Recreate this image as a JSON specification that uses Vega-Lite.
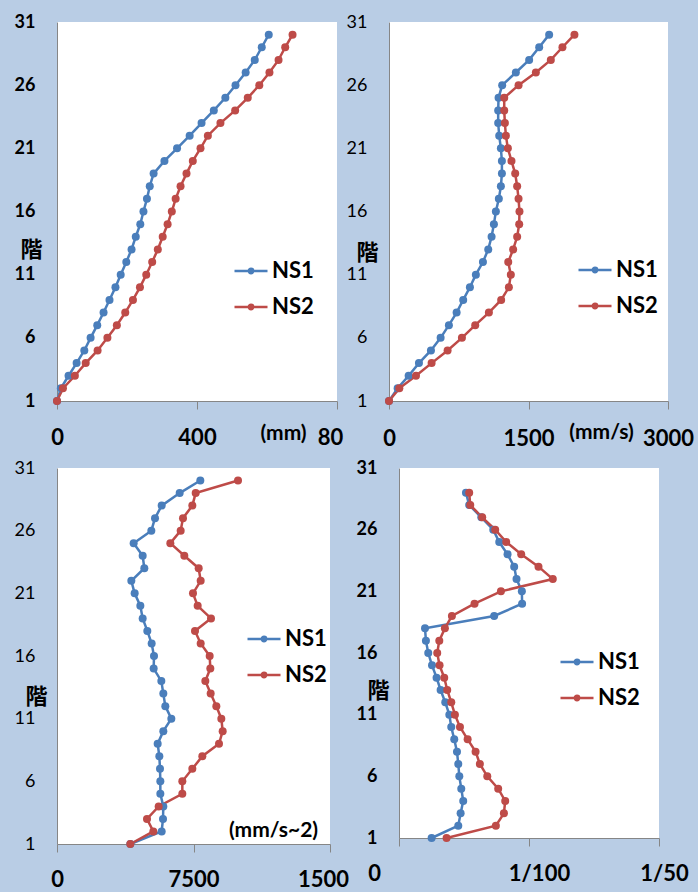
{
  "$schema": "https://vega.github.io/schema/vega-lite/v6.json",
  "background": "#B9CDE5",
  "padding": {"left": 14, "top": 13, "right": 40, "bottom": 40},
  "config": {
    "font": "Lato",
    "view": {"fill": "white", "stroke": null},
    "axis": {"grid": false, "domainColor": "#868686", "tickColor": "#868686", "labelColor": "black", "titleColor": "black", "labelFont": "Lato", "titleFont": "Lato", "labelFlush": false, "labelOverlap": false, "labelBound": false},
    "axisX": {"tickSize": 8, "labelFontSize": 22, "labelFontWeight": "bold", "titleFontSize": 21, "titleFontWeight": "bold", "titleAlign": "center", "titleBaseline": "alphabetic"},
    "axisY": {"ticks": false, "labelFontSize": 18, "labelPadding": 22, "titleAngle": 0, "titleFont": "Noto Sans CJK JP", "titleFontSize": 22, "titleFontWeight": "bold", "titleAlign": "center", "titleBaseline": "middle"},
    "legend": {"orient": "none", "padding": 0, "title": null, "labelFont": "Lato", "labelFontSize": 22, "labelFontWeight": "bold", "labelColor": "black", "symbolSize": 1089, "symbolStrokeWidth": 2.5, "labelOffset": 3, "rowPadding": 7, "symbolType": "M-1,0L1,0M-0.073,0A0.073,0.073,0,1,1,0.073,0A0.073,0.073,0,1,1,-0.073,0ZM-0.133,0A0.133,0.133,0,1,1,0.133,0A0.133,0.133,0,1,1,-0.133,0Z"}
  },
  "datasets": {
    "disp": [
      {"f":1,"NS1":0,"NS2":0},{"f":2,"NS1":11,"NS2":17},{"f":3,"NS1":33,"NS2":51},{"f":4,"NS1":56,"NS2":82},{"f":5,"NS1":78,"NS2":116},
      {"f":6,"NS1":96,"NS2":144},{"f":7,"NS1":115,"NS2":171},{"f":8,"NS1":133,"NS2":195},{"f":9,"NS1":150,"NS2":217},{"f":10,"NS1":167,"NS2":237},
      {"f":11,"NS1":182,"NS2":255},{"f":12,"NS1":198,"NS2":272},{"f":13,"NS1":213,"NS2":288},{"f":14,"NS1":225,"NS2":302},{"f":15,"NS1":238,"NS2":316},
      {"f":16,"NS1":247,"NS2":328},{"f":17,"NS1":257,"NS2":339},{"f":18,"NS1":265,"NS2":353},{"f":19,"NS1":276,"NS2":370},{"f":20,"NS1":307,"NS2":388},
      {"f":21,"NS1":343,"NS2":410},{"f":22,"NS1":379,"NS2":431},{"f":23,"NS1":413,"NS2":467},{"f":24,"NS1":448,"NS2":509},{"f":25,"NS1":481,"NS2":545},
      {"f":26,"NS1":510,"NS2":578},{"f":27,"NS1":539,"NS2":607},{"f":28,"NS1":565,"NS2":633},{"f":29,"NS1":585,"NS2":652},{"f":30,"NS1":605,"NS2":673}
    ],
    "vel": [
      {"f":1,"NS1":0,"NS2":0},{"f":2,"NS1":93,"NS2":111},{"f":3,"NS1":211,"NS2":290},{"f":4,"NS1":322,"NS2":458},{"f":5,"NS1":451,"NS2":630},
      {"f":6,"NS1":555,"NS2":784},{"f":7,"NS1":644,"NS2":927},{"f":8,"NS1":727,"NS2":1074},{"f":9,"NS1":798,"NS2":1206},{"f":10,"NS1":870,"NS2":1289},
      {"f":11,"NS1":934,"NS2":1310},{"f":12,"NS1":1010,"NS2":1282},{"f":13,"NS1":1067,"NS2":1335},{"f":14,"NS1":1103,"NS2":1378},{"f":15,"NS1":1128,"NS2":1400},
      {"f":16,"NS1":1149,"NS2":1403},{"f":17,"NS1":1181,"NS2":1393},{"f":18,"NS1":1203,"NS2":1378},{"f":19,"NS1":1214,"NS2":1357},{"f":20,"NS1":1214,"NS2":1317},
      {"f":21,"NS1":1203,"NS2":1278},{"f":22,"NS1":1185,"NS2":1257},{"f":23,"NS1":1174,"NS2":1246},{"f":24,"NS1":1174,"NS2":1239},{"f":25,"NS1":1178,"NS2":1239},
      {"f":26,"NS1":1217,"NS2":1393},{"f":27,"NS1":1364,"NS2":1579},{"f":28,"NS1":1507,"NS2":1740},{"f":29,"NS1":1615,"NS2":1865},{"f":30,"NS1":1722,"NS2":1994}
    ],
    "acc": [
      {"f":1,"NS1":4029,"NS2":4029},{"f":2,"NS1":5751,"NS2":5293},{"f":3,"NS1":5824,"NS2":4945},{"f":4,"NS1":5842,"NS2":5586},{"f":5,"NS1":5678,"NS2":6886},
      {"f":6,"NS1":5678,"NS2":6886},{"f":7,"NS1":5659,"NS2":7436},{"f":8,"NS1":5623,"NS2":7985},{"f":9,"NS1":5531,"NS2":8901},{"f":10,"NS1":5842,"NS2":9103},
      {"f":11,"NS1":6282,"NS2":9029},{"f":12,"NS1":5952,"NS2":8755},{"f":13,"NS1":5842,"NS2":8443},{"f":14,"NS1":5733,"NS2":8150},{"f":15,"NS1":5311,"NS2":8425},
      {"f":16,"NS1":5330,"NS2":8388},{"f":17,"NS1":5201,"NS2":7894},{"f":18,"NS1":4963,"NS2":7582},{"f":19,"NS1":4707,"NS2":8461},{"f":20,"NS1":4579,"NS2":7729},
      {"f":21,"NS1":4267,"NS2":7472},{"f":22,"NS1":4084,"NS2":7894},{"f":23,"NS1":4798,"NS2":7784},{"f":24,"NS1":4707,"NS2":6996},{"f":25,"NS1":4212,"NS2":6227},
      {"f":26,"NS1":5183,"NS2":6795},{"f":27,"NS1":5385,"NS2":6923},{"f":28,"NS1":5751,"NS2":7436},{"f":29,"NS1":6740,"NS2":7619},{"f":30,"NS1":7875,"NS2":9945}
    ],
    "drift": [
      {"f":1,"NS1":0.00251,"NS2":0.00366},{"f":2,"NS1":0.00456,"NS2":0.00745},{"f":3,"NS1":0.00474,"NS2":0.00807},{"f":4,"NS1":0.00494,"NS2":0.00817},{"f":5,"NS1":0.00479,"NS2":0.00763},
      {"f":6,"NS1":0.00464,"NS2":0.00679},{"f":7,"NS1":0.00456,"NS2":0.00622},{"f":8,"NS1":0.00446,"NS2":0.00589},{"f":9,"NS1":0.00425,"NS2":0.00528},{"f":10,"NS1":0.00402,"NS2":0.00469},
      {"f":11,"NS1":0.00387,"NS2":0.0043},{"f":12,"NS1":0.00356,"NS2":0.00402},{"f":13,"NS1":0.0032,"NS2":0.00371},{"f":14,"NS1":0.00289,"NS2":0.00348},{"f":15,"NS1":0.00254,"NS2":0.00312},
      {"f":16,"NS1":0.00225,"NS2":0.00294},{"f":17,"NS1":0.00207,"NS2":0.0031},{"f":18,"NS1":0.002,"NS2":0.00353},{"f":19,"NS1":0.00732,"NS2":0.00407},{"f":20,"NS1":0.00947,"NS2":0.00581},
      {"f":21,"NS1":0.00945,"NS2":0.00784},{"f":22,"NS1":0.00904,"NS2":0.01183},{"f":23,"NS1":0.00886,"NS2":0.01073},{"f":24,"NS1":0.00835,"NS2":0.0094},{"f":25,"NS1":0.00771,"NS2":0.00825},
      {"f":26,"NS1":0.00725,"NS2":0.0074},{"f":27,"NS1":0.00633,"NS2":0.0064},{"f":28,"NS1":0.0054,"NS2":0.00548},{"f":29,"NS1":0.00515,"NS2":0.0054}
    ]
  },
  "spacing": 10,
  "resolve": {"scale": {"color": "independent"}, "legend": {"color": "independent"}},
  "vconcat": [
    {
      "hconcat": [
        {
          "width": 280, "height": 379,
          "data": {"name": "disp"},
          "transform": [{"fold": ["NS1", "NS2"], "as": ["series", "value"]}],
          "mark": {"type": "line", "strokeWidth": 2.5, "point": {"filled": true, "size": 64, "opacity": 1}},
          "encoding": {
            "x": {"field": "value", "type": "quantitative", "scale": {"domain": [0, 800], "nice": false, "zero": false},
                  "axis": {"values": [0, 400, 800], "labelExpr": "datum.value == 800 ? '80' : datum.label", "labelOffset": {"condition": {"test": "datum.value == 800", "value": -7}, "value": 0}, "labelPadding": 18, "title": "(mm)", "titleX": 226, "titleY": 38}},
            "y": {"field": "f", "type": "quantitative", "scale": {"domain": [1, 31], "nice": false, "zero": false},
                  "axis": {"values": [1, 6, 11, 16, 21, 26, 31], "labelFontWeight": "bold", "title": "階", "titleX": -26, "titleY": 227}},
            "color": {"field": "series", "type": "nominal", "scale": {"domain": ["NS1", "NS2"], "range": ["#4A7EBB", "#BE4B48"]},
                      "legend": {"legendX": 176, "legendY": 231}},
            "order": {"field": "f", "type": "quantitative"}
          }
        },
        {
          "width": 279, "height": 379,
          "data": {"name": "vel"},
          "transform": [{"fold": ["NS1", "NS2"], "as": ["series", "value"]}],
          "mark": {"type": "line", "strokeWidth": 2.5, "point": {"filled": true, "size": 64, "opacity": 1}},
          "encoding": {
            "x": {"field": "value", "type": "quantitative", "scale": {"domain": [0, 3000], "nice": false, "zero": false},
                  "axis": {"values": [0, 1500, 3000], "format": "d", "labelPadding": 19, "title": "(mm/s)", "titleX": 212, "titleY": 37}},
            "y": {"field": "f", "type": "quantitative", "scale": {"domain": [1, 31], "nice": false, "zero": false},
                  "axis": {"values": [1, 6, 11, 16, 21, 26, 31], "labelFontWeight": "normal", "title": "階", "titleX": -22, "titleY": 230}},
            "color": {"field": "series", "type": "nominal", "scale": {"domain": ["NS1", "NS2"], "range": ["#4A7EBB", "#BE4B48"]},
                      "legend": {"legendX": 188, "legendY": 230}},
            "order": {"field": "f", "type": "quantitative"}
          }
        }
      ],
      "spacing": 52,
      "bounds": "flush",
      "resolve": {"scale": {"color": "independent"}, "legend": {"color": "independent"}}
    },
    {
      "hconcat": [
        {
          "width": 273, "height": 376,
          "data": {"name": "acc"},
          "transform": [{"fold": ["NS1", "NS2"], "as": ["series", "value"]}],
          "mark": {"type": "line", "strokeWidth": 2.5, "point": {"filled": true, "size": 64, "opacity": 1}},
          "encoding": {
            "x": {"field": "value", "type": "quantitative", "scale": {"domain": [0, 15000], "nice": false, "zero": false},
                  "axis": {"values": [0, 7500, 15000], "format": "d", "labelExpr": "datum.value == 15000 ? '1500' : datum.label", "labelOffset": {"condition": {"test": "datum.value == 15000", "value": -7}, "value": 0}, "labelPadding": 17, "title": "(mm/s~2)", "titleX": 216, "titleY": -8}},
            "y": {"field": "f", "type": "quantitative", "scale": {"domain": [1, 31], "nice": false, "zero": false},
                  "axis": {"values": [1, 6, 11, 16, 21, 26, 31], "labelFontWeight": "normal", "title": "階", "titleX": -21, "titleY": 228}},
            "color": {"field": "series", "type": "nominal", "scale": {"domain": ["NS1", "NS2"], "range": ["#4A7EBB", "#BE4B48"]},
                      "legend": {"legendX": 189, "legendY": 153}},
            "order": {"field": "f", "type": "quantitative"}
          }
        },
        {
          "width": 260, "height": 370,
          "data": {"name": "drift"},
          "transform": [{"fold": ["NS1", "NS2"], "as": ["series", "value"]}],
          "mark": {"type": "line", "strokeWidth": 2.5, "point": {"filled": true, "size": 64, "opacity": 1}},
          "encoding": {
            "x": {"field": "value", "type": "quantitative", "scale": {"domain": [0, 0.02], "nice": false, "zero": false},
                  "axis": {"values": [0, 0.01, 0.02], "labelExpr": "datum.value == 0 ? '0' : (datum.value == 0.01 ? '1/100' : '1/50')", "labelOffset": {"condition": [{"test": "datum.value == 0", "value": -25}, {"test": "datum.value == 0.01", "value": 10}], "value": 5}, "labelPadding": 17, "title": null}},
            "y": {"field": "f", "type": "quantitative", "scale": {"domain": [1, 31], "nice": false, "zero": false},
                  "axis": {"values": [1, 6, 11, 16, 21, 26, 31], "labelFontWeight": "bold", "title": "階", "titleX": -21, "titleY": 222}},
            "color": {"field": "series", "type": "nominal", "scale": {"domain": ["NS1", "NS2"], "range": ["#4A7EBB", "#BE4B48"]},
                      "legend": {"legendX": 160, "legendY": 176}},
            "order": {"field": "f", "type": "quantitative"}
          }
        }
      ],
      "spacing": 69,
      "bounds": "flush",
      "resolve": {"scale": {"color": "independent"}, "legend": {"color": "independent"}}
    }
  ]
}
